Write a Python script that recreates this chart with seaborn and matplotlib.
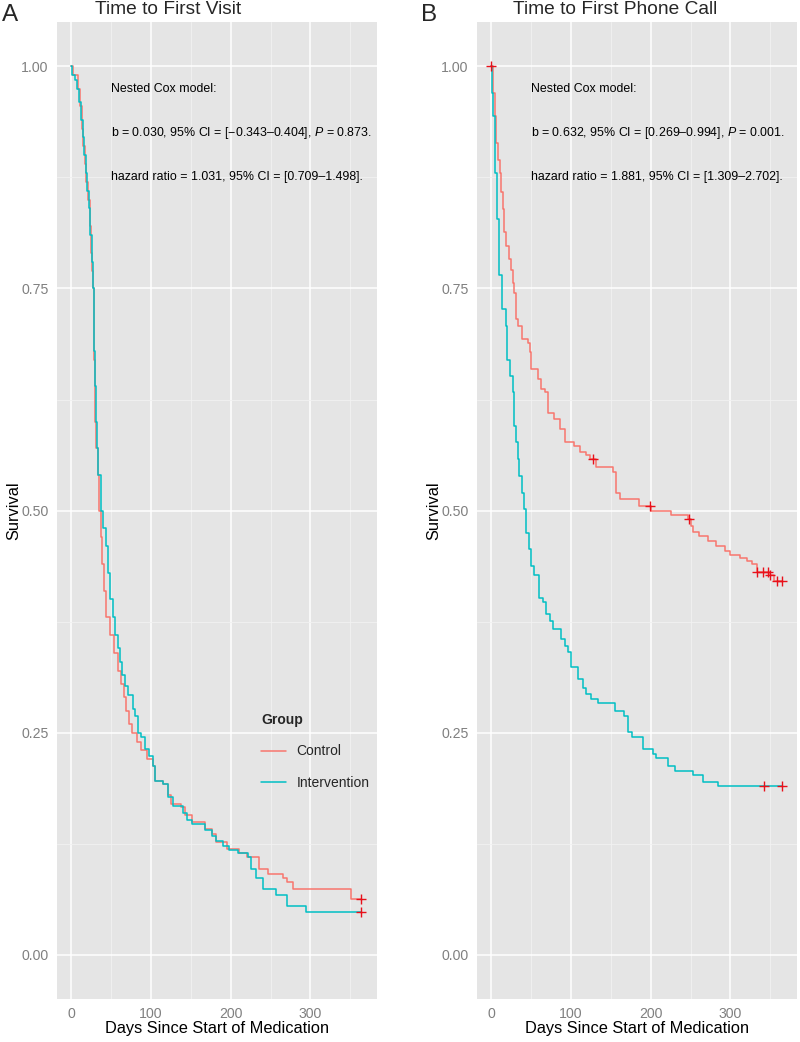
import numpy as np
import pandas as pd
import matplotlib
matplotlib.use("Agg")
import matplotlib.pyplot as plt
import matplotlib.ticker as mticker
import seaborn as sns

# --- Panel A: time to first visit (Kaplan-Meier steps) ---
ctrl_a_days = [0, 2, 8, 11, 13, 15, 17, 19, 21, 23, 25, 26, 27, 28, 29, 30, 31, 33, 35, 37,
               39, 41, 44, 48, 53, 58, 62, 66, 69, 72, 76, 82, 88, 95, 103, 105, 115, 121, 125, 138,
               143, 151, 168, 176, 182, 195, 210, 221, 236, 247, 265, 270, 278, 351, 364]
ctrl_a_surv = [1.00, 0.99, 0.975, 0.955, 0.93, 0.91, 0.89, 0.87, 0.85, 0.82,
               0.79, 0.77, 0.75, 0.71, 0.67, 0.60, 0.57, 0.54, 0.50, 0.47,
               0.44, 0.41, 0.38, 0.36, 0.34, 0.32, 0.305, 0.29, 0.275, 0.26,
               0.25, 0.24, 0.23, 0.22, 0.212, 0.196, 0.192, 0.18, 0.17, 0.166,
               0.157, 0.15, 0.142, 0.136, 0.127, 0.119, 0.115, 0.11, 0.097, 0.091,
               0.087, 0.082, 0.074, 0.063, 0.063]
int_a_days = [0, 1, 4, 7, 10, 12, 14, 16, 18, 20, 22, 24, 26, 27, 28, 29, 30, 31, 32, 34,
              37, 40, 43, 46, 49, 52, 55, 58, 61, 64, 67, 71, 77, 80, 84, 88, 92, 98, 103, 105,
              115, 121, 128, 140, 145, 152, 168, 176, 182, 190, 198, 209, 222, 226, 232, 240, 257, 270, 295, 364]
int_a_surv = [1.00, 0.99, 0.985, 0.975, 0.96, 0.94, 0.92, 0.90, 0.88, 0.86,
              0.84, 0.81, 0.78, 0.75, 0.72, 0.68, 0.64, 0.60, 0.57, 0.54,
              0.50, 0.48, 0.46, 0.43, 0.40, 0.38, 0.36, 0.345, 0.33, 0.315,
              0.303, 0.292, 0.277, 0.269, 0.25, 0.245, 0.232, 0.224, 0.213, 0.196,
              0.192, 0.178, 0.168, 0.16, 0.152, 0.147, 0.14, 0.134, 0.128, 0.123,
              0.118, 0.115, 0.11, 0.097, 0.086, 0.074, 0.067, 0.055, 0.048, 0.048]
cens_a_days = [364, 364]
cens_a_surv = [0.063, 0.048]

# --- Panel B: time to first phone call ---
ctrl_b_days = [0, 2, 4, 6, 8, 11, 12, 14, 16, 18, 22, 25, 27, 29, 31, 33, 38, 46, 49, 50,
               58, 62, 67, 71, 79, 86, 92, 104, 111, 119, 124, 131, 153, 157, 161, 185, 200, 226, 247, 251,
               253, 261, 272, 282, 293, 300, 312, 321, 327, 333, 350, 355, 365]
ctrl_b_surv = [1.0, 0.97, 0.944, 0.914, 0.895, 0.88, 0.858, 0.839, 0.813, 0.798,
               0.783, 0.771, 0.756, 0.745, 0.716, 0.708, 0.693, 0.689, 0.678, 0.659,
               0.648, 0.637, 0.633, 0.61, 0.603, 0.592, 0.577, 0.573, 0.566, 0.562,
               0.558, 0.549, 0.543, 0.52, 0.513, 0.505, 0.50, 0.495, 0.49, 0.483,
               0.476, 0.471, 0.466, 0.46, 0.454, 0.45, 0.447, 0.443, 0.44, 0.431,
               0.428, 0.421, 0.421]
int_b_days = [0, 1, 2.5, 5, 7, 10, 13, 18, 20, 23, 27, 29, 31, 33, 35, 39, 41, 44, 47, 50,
              54, 59.5, 65, 68, 73, 77, 88, 92, 96, 100, 109, 115, 119, 125, 134, 155, 167, 171, 176, 190,
              203, 207, 222, 230, 253, 266, 285, 365]
int_b_surv = [1.0, 0.97, 0.944, 0.88, 0.828, 0.765, 0.727, 0.708, 0.67, 0.652,
              0.633, 0.595, 0.577, 0.558, 0.539, 0.52, 0.502, 0.475, 0.457, 0.438,
              0.427, 0.402, 0.397, 0.384, 0.376, 0.367, 0.355, 0.348, 0.341, 0.324,
              0.311, 0.30, 0.294, 0.288, 0.283, 0.275, 0.269, 0.251, 0.245, 0.232,
              0.226, 0.221, 0.213, 0.207, 0.202, 0.194, 0.19, 0.19]
cens_b_days = [0, 127, 199, 248, 333, 341, 347, 350, 358, 365, 342, 365]
cens_b_surv = [1.0, 0.558, 0.505, 0.49, 0.431, 0.431, 0.431, 0.428, 0.421, 0.421, 0.19, 0.19]

groups = ["Control", "Intervention"]
x_ticks = [0, 100, 200, 300]
y_ticks = [0.00, 0.25, 0.50, 0.75, 1.00]

text_a = ["Nested Cox model:",
          "b = 0.030, 95% CI = [\u22120.343\u20130.404], $P$ = 0.873.",
          "hazard ratio = 1.031, 95% CI = [0.709\u20131.498]."]
text_b = ["Nested Cox model:",
          "b = 0.632, 95% CI = [0.269\u20130.994], $P$ = 0.001.",
          "hazard ratio = 1.881, 95% CI = [1.309\u20132.702]."]

PALETTE = {"Control": "#F8766D", "Intervention": "#00BFC4"}
GREY = "#808080"

sns.set_theme(style="white")
plt.rcParams["font.family"] = ["Liberation Sans", "DejaVu Sans"]
plt.rcParams["mathtext.fontset"] = "custom"
plt.rcParams["mathtext.rm"] = "Liberation Sans"
plt.rcParams["mathtext.it"] = "Liberation Sans:italic"


def km_frame(dc, sc, di, si):
    return pd.concat([
        pd.DataFrame({"Days": dc, "Survival": sc, "Group": groups[0]}),
        pd.DataFrame({"Days": di, "Survival": si, "Group": groups[1]}),
    ], ignore_index=True)


def style_axis(ax):
    ax.set_facecolor("#E5E5E5")
    ax.set_xlim(-18.25, 383.25)
    ax.set_ylim(-0.05, 1.05)
    ax.set_xticks(x_ticks)
    ax.set_xticks([50, 150, 250, 350], minor=True)
    ax.set_yticks(y_ticks)
    ax.set_yticks([0.125, 0.375, 0.625, 0.875], minor=True)
    ax.yaxis.set_major_formatter(mticker.FormatStrFormatter("%.2f"))
    ax.grid(which="major", color="white", linewidth=1.1)
    ax.grid(which="minor", color="#F2F2F2", linewidth=0.6)
    ax.set_axisbelow(True)
    for sp in ax.spines.values():
        sp.set_visible(False)
    ax.tick_params(which="major", length=3.6, width=0.9, color=GREY,
                   labelcolor=GREY, labelsize=10.2, pad=2.2)
    ax.tick_params(which="minor", length=0)


fig = plt.figure(figsize=(8, 10.42), dpi=100)
axA = fig.add_axes([0.071, 0.041, 0.400, 0.938])
axB = fig.add_axes([0.596, 0.041, 0.400, 0.938])

panels = [
    (axA, km_frame(ctrl_a_days, ctrl_a_surv, int_a_days, int_a_surv), cens_a_days, cens_a_surv, text_a),
    (axB, km_frame(ctrl_b_days, ctrl_b_surv, int_b_days, int_b_surv), cens_b_days, cens_b_surv, text_b),
]

for i, (ax, df, cd, cs, txt) in enumerate(panels):
    style_axis(ax)
    sns.lineplot(data=df, x="Days", y="Survival", hue="Group", palette=PALETTE,
                 estimator=None, drawstyle="steps-post", linewidth=1.1,
                 ax=ax, legend=(i == 0), zorder=2)
    sns.scatterplot(x=cd, y=cs, marker="+", color="#E8101A", s=60,
                    linewidth=1.0, ax=ax, zorder=3, legend=False)
    for t, yv in zip(txt, [0.974, 0.925, 0.875]):
        ax.text(50, yv, t, fontsize=8.9, va="center", ha="left", color="black")
    ax.set_xlabel("Days Since Start of Medication", fontsize=11.8, color="black")
    ax.set_ylabel("Survival", fontsize=11.8, color="black")
    ax.xaxis.set_label_coords(0.5, -0.022)
    ax.xaxis.label.set_va("top")
    ax.yaxis.set_label_coords(-0.112, 0.5)

sns.move_legend(axA, "upper left", bbox_to_anchor=(261 / 800, 1 - 713 / 1042),
                bbox_transform=fig.transFigure, title="Group", frameon=False,
                fontsize=10, title_fontsize=10, title_fontweight="bold",
                handlelength=1.8, handletextpad=0.75, labelspacing=1.25,
                borderpad=0, borderaxespad=0)
axA.get_legend()._legend_box.align = "left"

# titles and panel letters
fig.text(95 / 800, 1 - 10 / 1042, "Time to First Visit", fontsize=13.8, va="center", ha="left")
fig.text(513 / 800, 1 - 10 / 1042, "Time to First Phone Call", fontsize=13.8, va="center", ha="left")
fig.text(2 / 800, 1 - 15 / 1042, "A", fontsize=17.5, va="center", ha="left")
fig.text(421 / 800, 1 - 15 / 1042, "B", fontsize=17.5, va="center", ha="left")

fig.savefig("out.png", dpi=100, facecolor="white")
